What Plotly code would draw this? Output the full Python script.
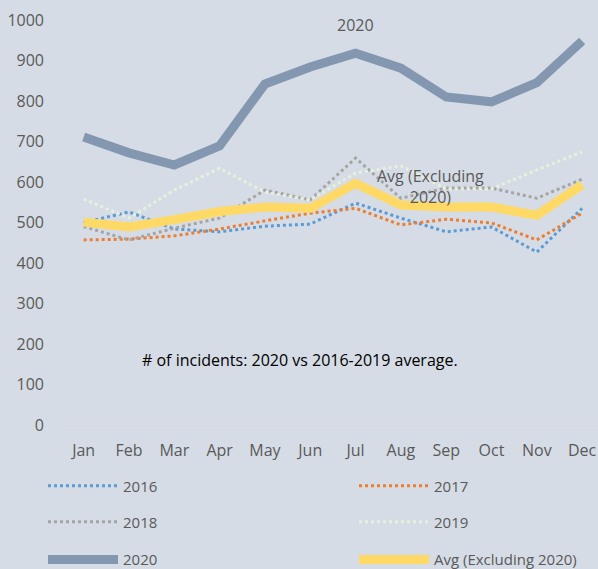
import plotly.graph_objects as go

months = ["Jan", "Feb", "Mar", "Apr", "May", "Jun", "Jul", "Aug", "Sep", "Oct", "Nov", "Dec"]
y2016 = [500, 526, 484, 477, 491, 496, 548, 511, 477, 489, 427, 535]
y2017 = [457, 459, 467, 484, 504, 523, 535, 494, 508, 499, 457, 523]
y2018 = [490, 457, 486, 511, 580, 556, 659, 560, 585, 585, 560, 607]
y2019 = [558, 511, 580, 634, 575, 556, 622, 640, 583, 583, 630, 674]
y2020 = [711, 672, 642, 689, 842, 884, 918, 881, 810, 798, 845, 948]
y_avg = [501, 489, 507, 527, 538, 535, 597, 543, 538, 538, 518, 593]

series = [
    ("2016", y2016, "#5B9BD5", 3, "dot"),
    ("2017", y2017, "#ED7D31", 3, "dot"),
    ("2018", y2018, "#A5A5A5", 3, "dot"),
    ("2019", y2019, "#E6F0DC", 3, "dot"),
    ("2020", y2020, "#8497B0", 9, "solid"),
    ("Avg (Excluding 2020)", y_avg, "#FFD966", 9, "solid"),
]

BG = "#D6DCE5"
TXT = "#595959"
FONT = "Open Sans"

# legend placement (paper coords): two columns, three rows
leg_x = [-0.0335, 0.5456]
leg_y = [-0.1506, -0.2395, -0.333]

fig = go.Figure()
legends = {}
for i, (name, vals, col, w, dash) in enumerate(series):
    key = "legend" if i == 0 else f"legend{i + 1}"
    fig.add_trace(go.Scatter(
        x=months, y=vals, name=name, mode="lines",
        line=dict(color=col, width=w, dash=dash, shape="linear"),
        legend=key,
    ))
    legends[key] = dict(
        orientation="h", xanchor="left", yanchor="middle",
        x=leg_x[i % 2], y=leg_y[i // 2], itemwidth=70,
        font=dict(family=FONT, size=15, color=TXT),
        bgcolor="rgba(0,0,0,0)", borderwidth=0,
    )

fig.update_layout(
    width=598, height=569,
    paper_bgcolor=BG, plot_bgcolor=BG,
    margin=dict(l=61, r=0, t=20, b=144, autoexpand=False),
    showlegend=True,
    font=dict(family=FONT, size=16, color=TXT),
    xaxis=dict(
        range=[-0.5, 11.35], showgrid=False, zeroline=False,
        showline=True, linecolor="#D9D9D9", linewidth=1,
        ticks="", tickfont=dict(family=FONT, size=16, color=TXT),
        ticklabelstandoff=11, fixedrange=True,
    ),
    yaxis=dict(
        range=[0, 1000], dtick=100, showgrid=False, zeroline=False,
        showline=False, ticks="", tickfont=dict(family=FONT, size=16, color=TXT),
        ticklabelstandoff=16, fixedrange=True,
    ),
    annotations=[
        dict(x="Jul", y=988, xref="x", yref="y", text="2020", showarrow=False,
             font=dict(family=FONT, size=16, color=TXT)),
        dict(x=7.66, y=588, xref="x", yref="y", text="Avg (Excluding<br>2020)",
             showarrow=False, align="center",
             font=dict(family=FONT, size=16, color=TXT)),
        dict(x=0.445, y=160, xref="paper", yref="y",
             text="# of incidents: 2020 vs 2016-2019 average.", showarrow=False,
             font=dict(family=FONT, size=16, color="#000000")),
    ],
    **legends,
)

fig.write_html("out.html", config={"displayModeBar": False},
               post_script="document.body.style.margin='0';")
